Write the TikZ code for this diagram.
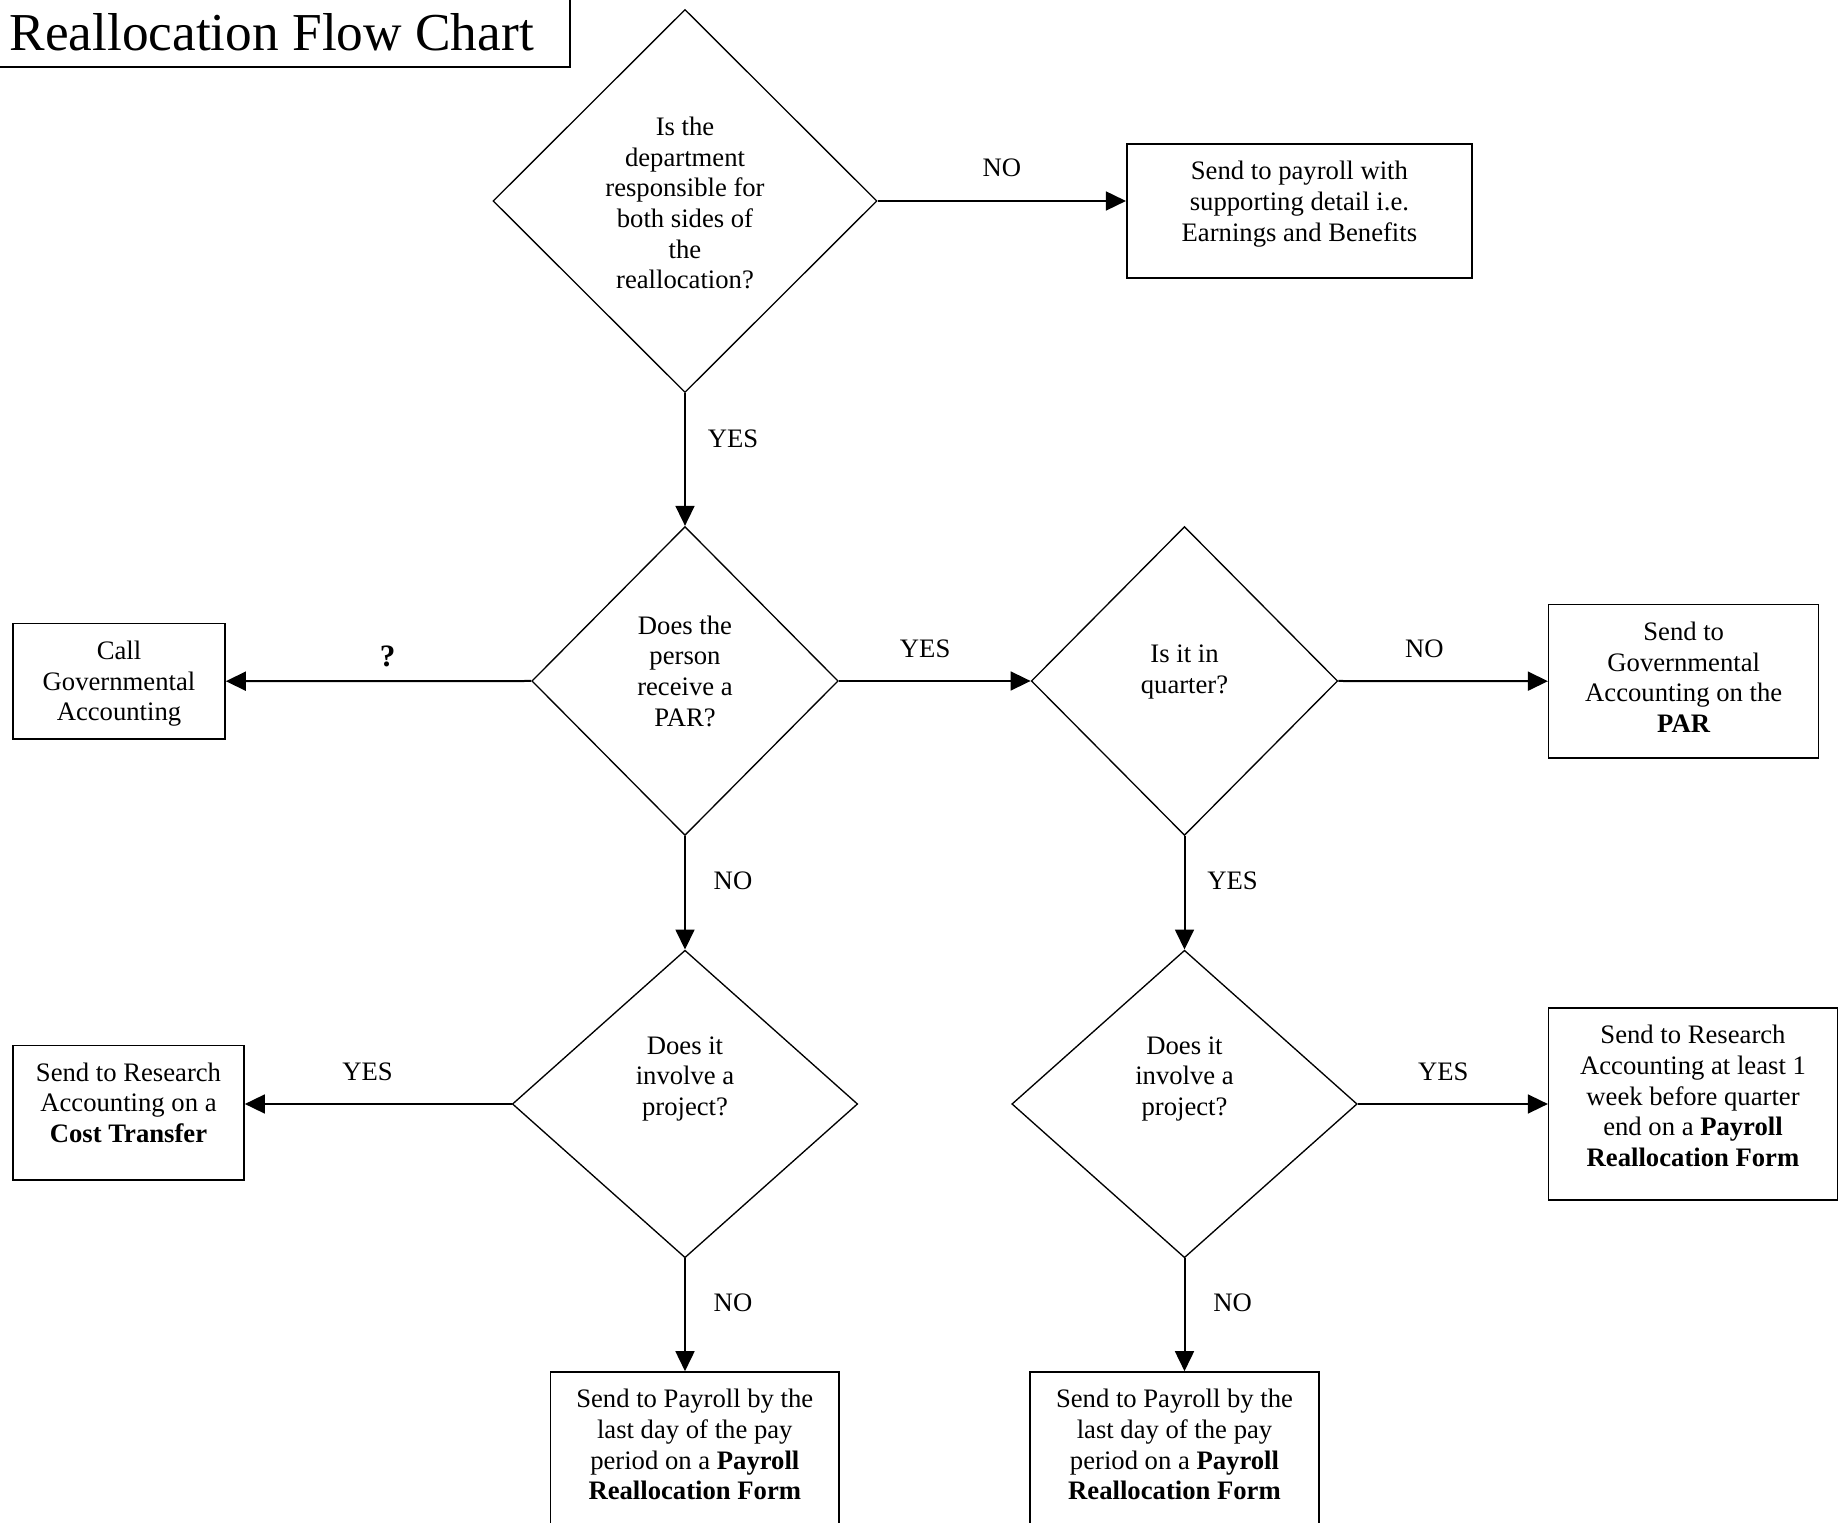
\documentclass[tikz,border=0pt]{standalone}
\usepackage{fontspec}
\setmainfont{Liberation Serif}
\usetikzlibrary{arrows.meta, positioning, shapes.geometric}

\tikzset{
  question/.style={diamond, draw, line width=0.6pt, inner sep=0pt},
  qtext/.style={align=center, font=\fontsize{12}{13.8}\selectfont, inner sep=0pt},
  answer/.style={rectangle, draw, line width=0.7pt, inner sep=0pt},
  atext/.style={align=center, font=\fontsize{12}{13.8}\selectfont, inner sep=0pt, anchor=north},
  flow/.style={line width=0.9pt, -{Triangle[length=9pt,width=8.5pt]}},
  choice/.style={font=\fontsize{12}{13.8}\selectfont, inner sep=0pt},
}

\begin{document}
\begin{tikzpicture}[x=0.45pt, y=-0.45pt]
  \useasboundingbox (0,0) rectangle (1848,1523);

  % Title
  \draw[line width=0.7pt] (-5,-5) rectangle (570,67);
  \node[anchor=base west, inner sep=0pt, font=\fontsize{24}{28}\selectfont] (title) at (9,51) {Reallocation Flow Chart};

  % --- Questions ---
  \node[question, minimum width=172.8pt, minimum height=172.4pt] (d1) at (685,201) {};
  \node[qtext] (d1txt) at (685,203) {Is the\\department\\responsible for\\both sides of\\the\\reallocation?};
  \node[question, minimum width=137.9pt, minimum height=139pt] (d2) at (685,681) {};
  \node[qtext] (d2txt) at (685,671) {Does the\\person\\receive a\\PAR?};
  \node[question, minimum width=137.9pt, minimum height=139pt] (d3) at (1184.5,681) {};
  \node[qtext] (d3txt) at (1184.5,672) {Is it in\\quarter?};
  \node[question, minimum width=155.4pt, minimum height=138.4pt] (d4) at (685,1104) {};
  \node[qtext] (d4txt) at (685,1079) {Does it\\involve a\\project?};
  \node[question, minimum width=155.4pt, minimum height=138.4pt] (d5) at (1184.5,1104) {};
  \node[qtext] (d5txt) at (1184.5,1079) {Does it\\involve a\\project?};

  % --- Outcomes ---
  \node[answer, minimum width=155.4pt, minimum height=60.4pt] (b1) at (1299.4,211) {};
  \node[atext] (b1txt) at ([yshift=-8pt]b1.north) {Send to payroll with\\supporting detail i.e.\\Earnings and Benefits};
  \node[answer, minimum width=95.4pt, minimum height=52pt] (b2) at (119,681.2) {};
  \node[atext] (b2txt) at ([yshift=-8pt]b2.north) {Call\\Governmental\\Accounting};
  \node[answer, minimum width=121.5pt, minimum height=68.9pt] (b3) at (1683.7,681.2) {};
  \node[atext] (b3txt) at ([yshift=-8pt]b3.north) {Send to\\Governmental\\Accounting on the\\\textbf{PAR}};
  \node[answer, minimum width=104pt, minimum height=60.5pt] (b4) at (128.5,1112.6) {};
  \node[atext] (b4txt) at ([yshift=-8pt]b4.north) {Send to Research\\Accounting on a\\\textbf{Cost Transfer}};
  \node[answer, minimum width=129.9pt, minimum height=86.4pt] (b5) at (1693,1103.8) {};
  \node[atext] (b5txt) at ([yshift=-8pt]b5.north) {Send to Research\\Accounting at least 1\\week before quarter\\end on a \textbf{Payroll}\\\textbf{Reallocation Form}};
  \node[answer, minimum width=130pt, minimum height=84.6pt] (b6) at (694.8,1466) {};
  \node[atext] (b6txt) at ([yshift=-8pt]b6.north) {Send to Payroll by the\\last day of the pay\\period on a \textbf{Payroll}\\\textbf{Reallocation Form}};
  \node[answer, minimum width=130pt, minimum height=84.6pt] (b7) at (1174.5,1466) {};
  \node[atext] (b7txt) at ([yshift=-8pt]b7.north) {Send to Payroll by the\\last day of the pay\\period on a \textbf{Payroll}\\\textbf{Reallocation Form}};

  % --- Connectors ---
  \draw[flow] (d1.east) -- (d1.east -| b1.west) node[choice, midway, yshift=14.8pt] (no1) {NO};
  \draw[flow] (d1.south) -- (d2.north) node[choice, pos=0.34, xshift=21.6pt] (yes1) {YES};
  \draw[flow] (d2.west) -- (b2.east) node[choice, pos=0.47, yshift=11.2pt, font=\fontsize{14}{16}\selectfont\bfseries] (ask) {?};
  \draw[flow] (d2.east) -- (d3.west) node[choice, pos=0.45, yshift=14.3pt] (yes2) {YES};
  \draw[flow] (d3.east) -- (b3.west) node[choice, pos=0.41, yshift=14.3pt] (no2) {NO};
  \draw[flow] (d2.south) -- (d4.north) node[choice, pos=0.39, xshift=21.6pt] (no3) {NO};
  \draw[flow] (d3.south) -- (d5.north) node[choice, pos=0.39, xshift=21.6pt] (yes3) {YES};
  \draw[flow] (d4.west) -- (d4.west -| b4.east) node[choice, pos=0.54, yshift=14.3pt] (yes4) {YES};
  \draw[flow] (d5.east) -- (d5.east -| b5.west) node[choice, pos=0.45, yshift=14.3pt] (yes5) {YES};
  \draw[flow] (d4.south) -- (d4.south |- b6.north) node[choice, pos=0.39, xshift=21.6pt] (no4) {NO};
  \draw[flow] (d5.south) -- (d5.south |- b7.north) node[choice, pos=0.39, xshift=21.6pt] (no5) {NO};
\end{tikzpicture}
\end{document}
